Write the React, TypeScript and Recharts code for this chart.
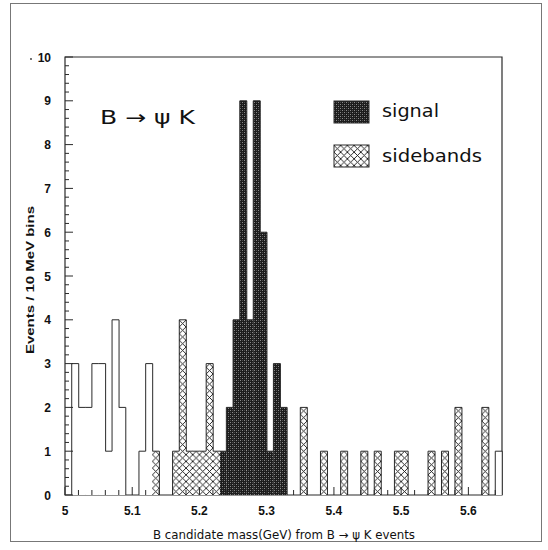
import React from 'react';
import { ComposedChart, Bar, XAxis, YAxis, ReferenceArea } from 'recharts';

// Bin counts, 10 MeV bins from 5.00 to 5.65 GeV (65 bins)
const OTHER = [
  0, 3, 2, 2, 3, 3, 1, 4, 2, 0,
  0, 1, 3, 0, 0, 0, 0, 0, 0, 0,
  0, 0, 0, 0, 0, 0, 0, 0, 0, 0,
  0, 0, 0, 0, 0, 0, 0, 0, 0, 0,
  0, 0, 0, 0, 0, 0, 0, 0, 0, 0,
  0, 0, 0, 0, 0, 0, 0, 0, 0, 0,
  0, 0, 0, 0, 1,
];
const SIGNAL = [
  0, 0, 0, 0, 0, 0, 0, 0, 0, 0,
  0, 0, 0, 0, 0, 0, 0, 0, 0, 0,
  0, 0, 0, 1, 2, 4, 9, 4, 9, 6,
  1, 3, 2, 0, 0, 0, 0, 0, 0, 0,
  0, 0, 0, 0, 0, 0, 0, 0, 0, 0,
  0, 0, 0, 0, 0, 0, 0, 0, 0, 0,
  0, 0, 0, 0, 0,
];
const SIDEBANDS = [
  0, 0, 0, 0, 0, 0, 0, 0, 0, 0,
  0, 0, 0, 1, 0, 0, 1, 4, 1, 1,
  1, 3, 1, 0, 0, 0, 0, 0, 0, 0,
  0, 0, 0, 0, 0, 2, 0, 0, 1, 0,
  0, 1, 0, 0, 1, 0, 1, 0, 0, 1,
  1, 0, 0, 0, 1, 0, 1, 0, 2, 0,
  0, 0, 2, 0, 0,
];
const X_MIN = 5.0;
const X_MAX = 5.65;
const BIN_W = 0.01;
const X_LABELS = [5, 5.1, 5.2, 5.3, 5.4, 5.5, 5.6];
const Y_LABELS = [0, 1, 2, 3, 4, 5, 6, 7, 8, 9, 10];

const TOTAL = OTHER.map((v, i) => v + SIGNAL[i] + SIDEBANDS[i]);
const data = OTHER.map((v, i) => ({
  bin: (X_MIN + i * BIN_W).toFixed(2),
  center: +(X_MIN + (i + 0.5) * BIN_W).toFixed(3),
  other: v,
  signal: SIGNAL[i],
  sidebands: SIDEBANDS[i],
}));

const X_TICKS: number[] = [];
for (let k = 0; k <= 32; k++) X_TICKS.push(+(X_MIN + k * 0.02).toFixed(2));
const Y_TICKS: number[] = [];
for (let k = 0; k <= 50; k++) Y_TICKS.push(+(k * 0.2).toFixed(1));

const W = 548;
const H = 550;
const PLOT_LEFT = 65;
const PLOT_TOP = 57;
const PLOT_RIGHT = 502;
const PLOT_BOTTOM = 495;
const STROKE = '#2a2a2a';
const TICK_FONT = { fontFamily: '"Liberation Sans", Arial, sans-serif', fontWeight: 700, fontSize: 12, fill: '#111' };
const TITLE_FONT = '"DejaVu Sans", sans-serif';

const HistShape = (props: any) => {
  const { x, y, width, height, index, fill } = props;
  if (!height || height <= 0) return null;
  const tot = TOTAL[index];
  const ppu = height / tot;
  const prev = index > 0 ? TOTAL[index - 1] : 0;
  const next = index < TOTAL.length - 1 ? TOTAL[index + 1] : 0;
  return (
    <g>
      <rect x={x} y={y} width={width} height={height} fill={fill} stroke="none" />
      <line x1={x} x2={x + width} y1={y} y2={y} stroke={STROKE} strokeWidth={1} />
      {tot > prev && <line x1={x} x2={x} y1={y} y2={y + (tot - prev) * ppu} stroke={STROKE} strokeWidth={1} />}
      {tot > next && <line x1={x + width} x2={x + width} y1={y} y2={y + (tot - next) * ppu} stroke={STROKE} strokeWidth={1} />}
    </g>
  );
};

const XTick = (props: any) => {
  const { x, payload } = props;
  const v = payload.value as number;
  const major = X_LABELS.some((l) => Math.abs(l - v) < 1e-6);
  return (
    <g>
      <line x1={x} x2={x} y1={PLOT_BOTTOM} y2={PLOT_BOTTOM - (major ? 8 : 5)} stroke={STROKE} strokeWidth={1} />
      {major && (
        <text x={x} y={PLOT_BOTTOM + 20} textAnchor="middle" {...TICK_FONT}>
          {String(v)}
        </text>
      )}
    </g>
  );
};

const YTick = (props: any) => {
  const { y, payload } = props;
  const v = payload.value as number;
  const major = Y_LABELS.some((l) => Math.abs(l - v) < 1e-6);
  return (
    <g>
      <line x1={PLOT_LEFT} x2={PLOT_LEFT + (major ? 8 : 4)} y1={y} y2={y} stroke={STROKE} strokeWidth={1} />
      {major && (
        <text x={51} y={y + 4.5} textAnchor="end" {...TICK_FONT}>
          {String(Math.round(v))}
        </text>
      )}
    </g>
  );
};

export default function App() {
  const binPx = (PLOT_RIGHT - PLOT_LEFT) / 65;
  return (
    <div style={{ position: 'absolute', left: 0, top: 0, width: W, height: H, background: '#fff' }}>
      <div
        style={{
          position: 'absolute',
          left: 10,
          top: 3,
          width: 530,
          height: 537,
          border: '1px solid #777',
          pointerEvents: 'none',
        }}
      />
      <ComposedChart
        width={W}
        height={H}
        data={data}
        margin={{ top: PLOT_TOP, right: W - PLOT_RIGHT, bottom: 0, left: 0 }}
        barCategoryGap={0}
        barGap={0}
      >
        <defs>
          <pattern id="sigPat" patternUnits="userSpaceOnUse" width="4" height="4">
            <rect width="4" height="4" fill="#1c1c1c" />
            <rect x="0" y="0" width="1" height="1" fill="#8a8a8a" />
            <rect x="2" y="2" width="1" height="1" fill="#8a8a8a" />
            <rect x="2" y="0" width="1" height="1" fill="#4a4a4a" />
            <rect x="0" y="2" width="1" height="1" fill="#4a4a4a" />
          </pattern>
          <pattern
            id="sbPat"
            patternUnits="userSpaceOnUse"
            x={PLOT_LEFT}
            y={PLOT_BOTTOM}
            width={binPx}
            height={binPx}
          >
            <rect width={binPx} height={binPx} fill="#fff" />
            <path
              d={`M0,0 L${binPx},${binPx} M${binPx},0 L0,${binPx}`}
              stroke="#111"
              strokeWidth={0.9}
              fill="none"
            />
          </pattern>
        </defs>
        <XAxis xAxisId="cat" dataKey="bin" type="category" hide />
        <XAxis
          xAxisId="num"
          dataKey="center"
          type="number"
          domain={[X_MIN, X_MAX]}
          ticks={X_TICKS}
          interval={0}
          height={H - PLOT_BOTTOM}
          axisLine={false}
          tickLine={false}
          tick={<XTick />}
        />
        <YAxis
          type="number"
          domain={[0, 10]}
          ticks={Y_TICKS}
          interval={0}
          width={PLOT_LEFT}
          axisLine={false}
          tickLine={false}
          tick={<YTick />}
        />
        <Bar xAxisId="cat" dataKey="other" stackId="h" fill="#ffffff" shape={HistShape} isAnimationActive={false} />
        <Bar xAxisId="cat" dataKey="signal" name="signal" stackId="h" fill="url(#sigPat)" shape={HistShape} isAnimationActive={false} />
        <Bar xAxisId="cat" dataKey="sidebands" name="sidebands" stackId="h" fill="url(#sbPat)" shape={HistShape} isAnimationActive={false} />
        <ReferenceArea
          xAxisId="num"
          x1={X_MIN}
          x2={X_MAX}
          y1={0}
          y2={10}
          fill="none"
          fillOpacity={0}
          stroke={STROKE}
          strokeWidth={1.2}
          ifOverflow="visible"
        />
        {/* annotations */}
        <circle cx={31} cy={59} r={0.9} fill="#333" />
        <text x={100} y={124} fontFamily={TITLE_FONT} fontSize={19} fill="#111" textLength={95} lengthAdjust="spacingAndGlyphs">
          B → ψ K
        </text>
        <rect x={334} y={101} width={35} height={22} fill="url(#sigPat)" stroke={STROKE} strokeWidth={1} />
        <text x={382} y={117} fontFamily={TITLE_FONT} fontSize={17} fill="#111" textLength={57} lengthAdjust="spacingAndGlyphs">
          signal
        </text>
        <rect x={334} y={145} width={35} height={22} fill="url(#sbPat)" stroke={STROKE} strokeWidth={1} />
        <text x={382} y={162} fontFamily={TITLE_FONT} fontSize={17} fill="#111" textLength={100} lengthAdjust="spacingAndGlyphs">
          sidebands
        </text>
        <text
          x={284}
          y={539}
          textAnchor="middle"
          fontFamily={TITLE_FONT}
          fontSize={12}
          fill="#111"
          textLength={262}
          lengthAdjust="spacingAndGlyphs"
        >
          B candidate mass(GeV) from B → ψ K events
        </text>
        <text
          transform="translate(34,280) rotate(-90)"
          textAnchor="middle"
          fontFamily='"Liberation Sans", Arial, sans-serif'
          fontWeight={700}
          fontSize={11}
          fill="#111"
          textLength={148}
          lengthAdjust="spacingAndGlyphs"
        >
          Events / 10 MeV bins
        </text>
      </ComposedChart>
    </div>
  );
}
